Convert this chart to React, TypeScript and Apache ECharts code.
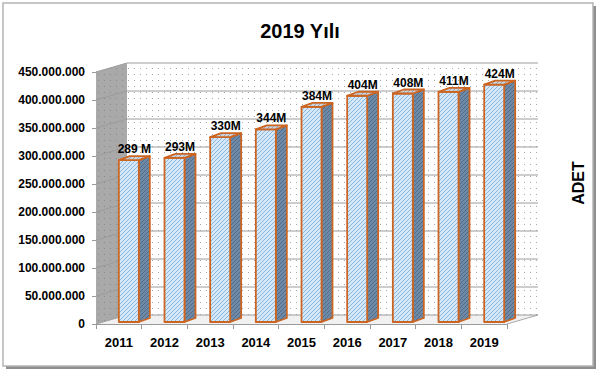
import React, { useEffect, useRef } from 'react';
import * as echarts from 'echarts';

const categories = ['2011', '2012', '2013', '2014', '2015', '2016', '2017', '2018', '2019'];
const values = [289e6, 293e6, 330e6, 344e6, 384e6, 404e6, 408e6, 411e6, 424e6];
const valueLabels = ['289 M', '293M', '330M', '344M', '384M', '404M', '408M', '411M', '424M'];
const yTicks = [0, 50e6, 100e6, 150e6, 200e6, 250e6, 300e6, 350e6, 400e6, 450e6];
const titleText = '2019 Yılı';
const axisName = 'ADET';

const FONT = '"Liberation Sans", Arial, sans-serif';

function makePattern(size: number, bg: string, fg: string, kind: 'diag' | 'dot') {
  const c = document.createElement('canvas');
  c.width = size;
  c.height = size;
  const ctx = c.getContext('2d')!;
  ctx.fillStyle = bg;
  ctx.fillRect(0, 0, size, size);
  ctx.fillStyle = fg;
  if (kind === 'diag') {
    for (let i = 0; i < size; i++) ctx.fillRect(i, size - 1 - i, 1, 1);
  } else {
    ctx.fillRect(2, 2, 1, 1);
  }
  return { image: c.toDataURL(), repeat: 'repeat', imageWidth: size, imageHeight: size };
}

function fmt(v: number) {
  return String(v).replace(/\B(?=(\d{3})+(?!\d))/g, '.');
}

export default function App() {
  const ref = useRef<HTMLDivElement>(null);
  useEffect(() => {
    if (!ref.current) return;
    const chart = echarts.init(ref.current, undefined, { renderer: 'svg' });
    const frontP = makePattern(4, '#d6e8f7', '#86b8e2', 'diag');
    const sideP = makePattern(4, '#6f8aa6', '#506c8a', 'diag');
    const topP = makePattern(4, '#cdd3da', '#9ea8b4', 'diag');
    const backP = makePattern(6, '#ffffff', '#a8a8a8', 'dot');
    const wallP = makePattern(6, '#a9a9a9', '#8a8a8a', 'dot');
    const orange = '#cc6522';
    const DX = 31, DY = -9;

    const option: any = {
      animation: false,
      backgroundColor: '#ffffff',
      title: {
        text: titleText,
        left: 'center',
        top: 16,
        textStyle: { fontFamily: FONT, fontWeight: 'bold', fontSize: 20, color: '#000' },
      },
      graphic: [
        { type: 'rect', z: -20, shape: { x: 6, y: 6, width: 590, height: 363 }, style: { fill: '#8e8e8e' } },
        { type: 'rect', z: -19, shape: { x: 3, y: 3, width: 590, height: 363 }, style: { fill: '#ffffff', stroke: '#b4b4b4', lineWidth: 1.5 } },
        {
          type: 'text', z: 10, x: 578, y: 183, rotation: Math.PI / 2,
          style: { text: axisName, font: `bold 16px ${FONT}`, fill: '#000', align: 'center', verticalAlign: 'middle' },
        },
      ],
      grid: { left: 96, right: 93, top: 72, bottom: 49 },
      xAxis: {
        type: 'category',
        data: categories,
        axisLine: { lineStyle: { color: '#9a9a9a' } },
        axisTick: { show: true, length: 5, lineStyle: { color: '#9a9a9a' } },
        axisLabel: { margin: 12, fontFamily: FONT, fontWeight: 'bold', fontSize: 13, color: '#000' },
      },
      yAxis: {
        type: 'value',
        min: 0,
        max: 450e6,
        interval: 50e6,
        axisLine: { show: true, lineStyle: { color: '#9a9a9a' } },
        axisTick: { show: true, length: 4, lineStyle: { color: '#9a9a9a' } },
        splitLine: { show: false },
        axisLabel: { margin: 11, fontFamily: FONT, fontWeight: 'bold', fontSize: 12, color: '#000', formatter: (v: number) => fmt(v) },
      },
      series: [
        {
          type: 'custom',
          z: 1,
          silent: true,
          data: [[0, 0]],
          encode: { x: 0, y: 1 },
          renderItem: (params: any, api: any) => {
            const cs = params.coordSys;
            const xL = cs.x, xR = cs.x + cs.width;
            const y0 = api.coord([0, 0])[1];
            const yMax = api.coord([0, yTicks[yTicks.length - 1]])[1];
            const children: any[] = [
              { type: 'polygon', shape: { points: [[xL + DX, yMax + DY], [xR + DX, yMax + DY], [xR + DX, y0 + DY], [xL + DX, y0 + DY]] }, style: { fill: backP } },
              { type: 'polygon', shape: { points: [[xL, yMax], [xL + DX, yMax + DY], [xL + DX, y0 + DY], [xL, y0]] }, style: { fill: wallP } },
              { type: 'polygon', shape: { points: [[xL, y0], [xR, y0], [xR + DX, y0 + DY], [xL + DX, y0 + DY]] }, style: { fill: '#f1f1f1' } },
              { type: 'line', shape: { x1: xR, y1: y0, x2: xR + DX, y2: y0 + DY }, style: { stroke: '#a8a8a8', lineWidth: 1 } },
            ];
            yTicks.forEach((t) => {
              const yv = api.coord([0, t])[1];
              children.push({
                type: 'polyline',
                shape: { points: [[xL, yv], [xL + DX, yv + DY], [xR + DX, yv + DY]] },
                style: { stroke: '#9c9c9c', lineWidth: 1, fill: null },
              });
            });
            return { type: 'group', children };
          },
        },
        {
          type: 'custom',
          z: 3,
          data: values.map((v, i) => [i, v]),
          encode: { x: 0, y: 1 },
          renderItem: (params: any, api: any) => {
            const i = api.value(0);
            const v = api.value(1);
            const top = api.coord([i, v]);
            const base = api.coord([i, 0]);
            const fw = 20, dx = 11, dy = -4;
            const x0 = top[0];
            const yT = top[1] - 2;
            const yB = base[1] - 2;
            const st = { stroke: orange, lineWidth: 1.8, lineJoin: 'round' };
            return {
              type: 'group',
              children: [
                { type: 'polygon', shape: { points: [[x0 + fw, yT], [x0 + fw + dx, yT + dy], [x0 + fw + dx, yB + dy], [x0 + fw, yB]] }, style: { fill: sideP, ...st } },
                { type: 'rect', shape: { x: x0, y: yT, width: fw, height: yB - yT }, style: { fill: frontP, ...st } },
                { type: 'polygon', shape: { points: [[x0, yT], [x0 + fw, yT], [x0 + fw + dx, yT + dy], [x0 + dx, yT + dy]] }, style: { fill: topP, ...st } },
                {
                  type: 'text',
                  style: {
                    text: valueLabels[params.dataIndex],
                    x: x0 + (fw + dx) / 2,
                    y: yT - 11,
                    align: 'center',
                    verticalAlign: 'middle',
                    font: `bold 12px ${FONT}`,
                    fill: '#000',
                  },
                },
              ],
            };
          },
        },
      ],
    };
    chart.setOption(option);
    return () => chart.dispose();
  }, []);
  return <div ref={ref} style={{ position: 'absolute', left: 0, top: 0, width: 600, height: 373 }} />;
}
